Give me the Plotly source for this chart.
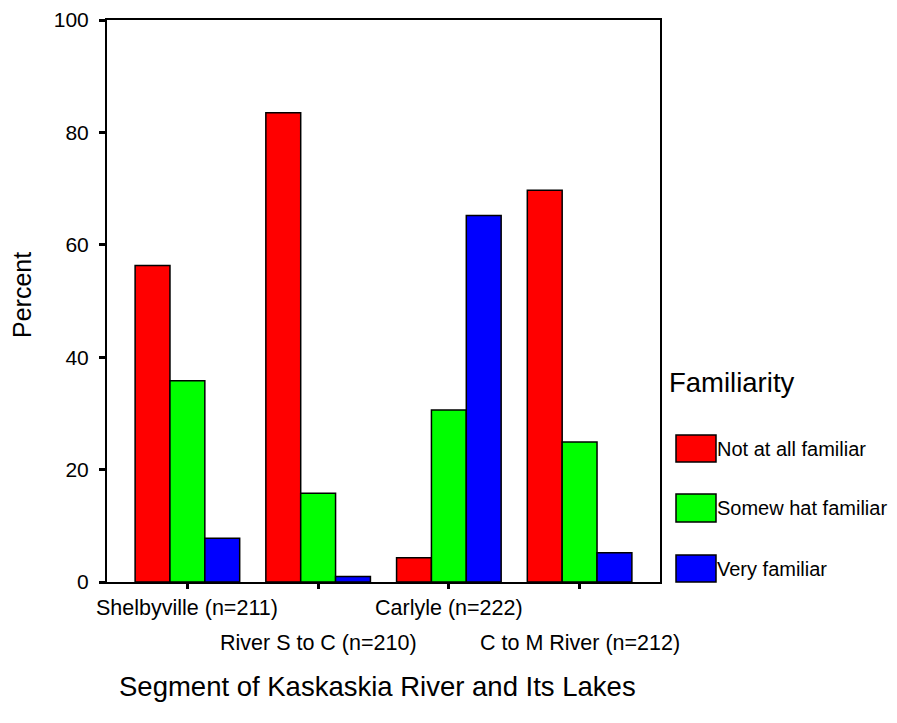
import plotly.graph_objects as go

segments = ["Shelbyville (n=211)", "River S to C (n=210)", "Carlyle (n=222)", "C to M River (n=212)"]
series_names = ["Not at all familiar", "Somew hat familiar", "Very familiar"]
not_at_all = [56.3, 83.5, 4.3, 69.7]
somewhat = [35.8, 15.8, 30.6, 24.9]
very = [7.8, 1.0, 65.2, 5.2]
colors = ["#FF0000", "#00FF00", "#0000FF"]
y_ticks = [0, 20, 40, 60, 80, 100]

FONT = "Liberation Sans, Arial, sans-serif"
OFF = 8  # page body margin
W, H = 897 - OFF, 723 - OFF
L, R, T, B = 107 - OFF, 237, 20 - OFF, 141
pw, ph = W - L - R, H - T - B

def px_x(x):
    return (x - OFF - L) / pw

def px_y(y):
    return (H - B - (y - OFF)) / ph

fig = go.Figure()
for name, vals, col in zip(series_names, [not_at_all, somewhat, very], colors):
    fig.add_trace(go.Bar(x=segments, y=vals, name=name, marker=dict(color=col, line=dict(color="black", width=1.5)),
                         showlegend=False))

fig.update_layout(
    width=W, height=H, margin=dict(l=L, r=R, t=T, b=B),
    paper_bgcolor="white", plot_bgcolor="white",
    barmode="group", bargap=0.2, bargroupgap=0,
    font=dict(family=FONT, color="black", size=21.5),
)
fig.update_xaxes(type="category", range=[-0.615, 3.615], showline=True, linecolor="black", linewidth=2,
                 mirror=True, ticks="outside", ticklen=5, tickwidth=3, tickcolor="black",
                 showticklabels=False, showgrid=False, zeroline=False, automargin=False)
fig.update_yaxes(range=[0, 100], tickvals=y_ticks, showline=True, linecolor="black", linewidth=2,
                 mirror=True, ticks="outside", ticklen=6, tickwidth=3, tickcolor="black",
                 ticklabelstandoff=6, tickfont=dict(size=21), showgrid=False, zeroline=False,
                 automargin=False, ticklabeloverflow="allow")

# staggered category labels
for i, s in enumerate(segments):
    fig.add_annotation(x=s, xref="x", y=0, yref="paper", text=s, showarrow=False,
                       yanchor="middle", yshift=-26 if i % 2 == 0 else -61, font=dict(size=21.5))

fig.add_annotation(x=0.5, xref="paper", y=0, yref="paper", text="Segment of Kaskaskia River and Its Lakes",
                   showarrow=False, yanchor="middle", yshift=-104, xshift=-6, font=dict(size=27.5))
fig.add_annotation(x=px_x(22), xref="paper", y=px_y(295), yref="paper", text="Percent", textangle=-90,
                   showarrow=False, xanchor="center", yanchor="middle", font=dict(size=25))

# legend
fig.add_annotation(x=px_x(667), xref="paper", y=px_y(382), yref="paper", text="Familiarity",
                   showarrow=False, xanchor="left", yanchor="middle", font=dict(size=27.5))
sw = [(435, 462), (494, 522), (555, 582)]
for (y0, y1), name, col in zip(sw, series_names, colors):
    fig.add_shape(type="rect", xref="paper", yref="paper", x0=px_x(676), x1=px_x(716),
                  y0=px_y(y1), y1=px_y(y0), fillcolor=col, line=dict(color="black", width=1.5))
    fig.add_annotation(x=px_x(715), xref="paper", y=px_y((y0 + y1) / 2), yref="paper", text=name,
                       showarrow=False, xanchor="left", yanchor="middle", font=dict(size=20))

fig.write_html("out.html")
